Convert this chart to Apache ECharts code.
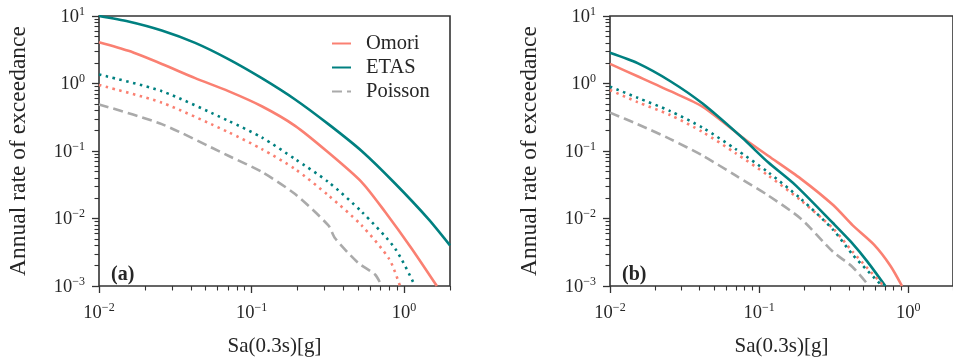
<!DOCTYPE html>
<html>
<head>
<meta charset="utf-8">
<script src="https://cdn.jsdelivr.net/npm/echarts@6/dist/echarts.min.js"></script>
<style>
html,body{margin:0;padding:0;background:#fff;}
#c{width:953px;height:362px;}
</style>
</head>
<body>
<div id="c"></div>
<script>
// ---- data (x = Sa(0.3s) [g], y = annual rate) ----
const etasA      = [[0.01,10],[0.0156,8.3],[0.0258,6.1],[0.0427,4.0],[0.0705,2.3],[0.1167,1.2],[0.193,0.58],[0.319,0.25],[0.527,0.1],[0.873,0.033],[1.445,0.0098],[2.0,0.004]];
const omoriA     = [[0.01,4.1],[0.0156,3.05],[0.0258,1.95],[0.0427,1.2],[0.0705,0.77],[0.1167,0.46],[0.193,0.236],[0.319,0.095],[0.527,0.0347],[0.75,0.0126],[1.12,0.0036],[1.64,0.001]];
const etasDotA   = [[0.01,1.36],[0.0258,0.77],[0.0705,0.28],[0.1167,0.159],[0.193,0.076],[0.319,0.0347],[0.527,0.0126],[0.873,0.0036],[1.18,0.001]];
const omoriDotA  = [[0.01,0.95],[0.0258,0.52],[0.0705,0.19],[0.1167,0.107],[0.193,0.054],[0.319,0.022],[0.527,0.0079],[0.8,0.0025],[0.94,0.001]];
const poissonA   = [[0.01,0.49],[0.0258,0.25],[0.0705,0.085],[0.1167,0.049],[0.193,0.023],[0.319,0.0079],[0.353,0.0051],[0.5,0.0022],[0.645,0.00148],[0.714,0.001]];

const etasB      = [[0.01,2.85],[0.0153,2.0],[0.0254,1.08],[0.042,0.5],[0.0768,0.158],[0.115,0.068],[0.176,0.031],[0.314,0.0085],[0.414,0.0045],[0.533,0.0023],[0.703,0.001]];
const omoriB     = [[0.01,1.95],[0.0153,1.28],[0.0254,0.77],[0.042,0.45],[0.0807,0.148],[0.115,0.085],[0.19,0.039],[0.314,0.0158],[0.425,0.0079],[0.59,0.0041],[0.76,0.002],[0.91,0.001]];
const etasDotB   = [[0.01,0.9],[0.0153,0.615],[0.0254,0.39],[0.042,0.22],[0.0695,0.107],[0.115,0.0485],[0.19,0.0197],[0.314,0.0068],[0.425,0.0029],[0.67,0.001]];
const omoriDotB  = [[0.01,0.8],[0.0153,0.53],[0.0254,0.34],[0.042,0.19],[0.0695,0.093],[0.115,0.0434],[0.19,0.0186],[0.314,0.0071],[0.425,0.0032],[0.686,0.001]];
const poissonB   = [[0.01,0.37],[0.0153,0.25],[0.0254,0.15],[0.042,0.085],[0.0695,0.0434],[0.115,0.022],[0.19,0.01],[0.314,0.0032],[0.425,0.0019],[0.547,0.001]];

// ---- axes / tick labels ----
const xMajorTicks = [0.01, 0.1, 1];
const yMajorTicks = [0.001, 0.01, 0.1, 1, 10];
const xRange = [0.01, 2];
const yRange = [0.001, 10];
const legendNames = ['Omori', 'ETAS', 'Poisson'];
const panelLabels = ['(a)', '(b)'];
const xTitle = 'Sa(0.3s)[g]';
const yTitle = 'Annual rate of exceedance';

// ---- styles ----
const FONT = '"Liberation Serif", serif';
const TEXT = '#262626';
const SPINE = '#333333';
const TEAL = '#008080';
const SALMON = '#fa8072';
const GRAY = '#aaaaaa';

function minorTicks(major, lo, hi) {
  const out = [];
  for (let i = 0; i < major.length; i++) {
    for (let m = 2; m <= 9; m++) {
      const v = major[i] * m;
      if (v >= lo * 0.999 && v <= hi * 1.001) out.push(v);
    }
  }
  return out;
}
const xMinor = minorTicks(xMajorTicks.concat([10]), xRange[0], xRange[1]);
const yMinor = minorTicks(yMajorTicks, yRange[0], yRange[1]);

function powLabel(v) {
  const e = Math.round(Math.log10(v));
  const s = e < 0 ? '\u2212' + (-e) : '' + e;
  return '{b|10}{s|' + s + '}';
}
const richLab = {
  b: { fontFamily: FONT, fontSize: 18.5, color: TEXT, lineHeight: 21, verticalAlign: 'bottom' },
  s: { fontFamily: FONT, fontSize: 12, color: TEXT, lineHeight: 12, verticalAlign: 'top' }
};

const grids = [
  { left: 99, top: 16, width: 351, height: 272, show: true, borderColor: SPINE, borderWidth: 1.6 },
  { left: 610, top: 16, width: 351, height: 272, show: true, borderColor: SPINE, borderWidth: 1.6 }
];

const xAxes = [], yAxes = [];
for (let g = 0; g < 2; g++) {
  xAxes.push({
    type: 'log', logBase: 10, gridIndex: g, position: 'bottom', min: xRange[0], max: xRange[1],
    axisLine: { show: false }, splitLine: { show: false },
    axisTick: { show: true, customValues: xMajorTicks, length: 7, lineStyle: { color: SPINE, width: 1.3 } },
    axisLabel: { customValues: xMajorTicks, formatter: powLabel, rich: richLab, margin: 16 },
    name: xTitle, nameLocation: 'middle', nameGap: 50,
    nameTextStyle: { fontFamily: FONT, fontSize: 21, color: TEXT }
  });
  xAxes.push({
    type: 'log', logBase: 10, gridIndex: g, position: 'bottom', min: xRange[0], max: xRange[1],
    axisLine: { show: false }, splitLine: { show: false }, axisLabel: { show: false },
    axisTick: { show: true, customValues: xMinor, length: 4.5, lineStyle: { color: SPINE, width: 1.1 } }
  });
  yAxes.push({
    type: 'log', logBase: 10, gridIndex: g, position: 'left', min: yRange[0], max: yRange[1],
    axisLine: { show: false }, splitLine: { show: false },
    axisTick: { show: true, customValues: yMajorTicks, length: 7, lineStyle: { color: SPINE, width: 1.3 } },
    axisLabel: { customValues: yMajorTicks, formatter: powLabel, rich: richLab, margin: 14 },
    name: yTitle, nameLocation: 'middle', nameGap: 68,
    nameTextStyle: { fontFamily: FONT, fontSize: 23.5, color: TEXT }
  });
  yAxes.push({
    type: 'log', logBase: 10, gridIndex: g, position: 'left', min: yRange[0], max: yRange[1],
    axisLine: { show: false }, splitLine: { show: false }, axisLabel: { show: false },
    axisTick: { show: true, customValues: yMinor, length: 4.5, lineStyle: { color: SPINE, width: 1.1 } }
  });
}

function line(name, data, g, color, type, width) {
  return {
    type: 'line', name: name, data: data, xAxisIndex: g * 2, yAxisIndex: g * 2,
    symbol: 'none', smooth: 0.25, clip: true,
    lineStyle: { color: color, width: width, type: type, cap: 'butt', join: 'round' },
    itemStyle: { color: color }, z: 3
  };
}
const DOT = [2.5, 4.5];
const DASH = [10, 5];
const series = [
  line('Omori', omoriA, 0, SALMON, 'solid', 2.6),
  line('ETAS', etasA, 0, TEAL, 'solid', 2.6),
  line('Poisson', poissonA, 0, GRAY, DASH, 2.6),
  line('Omori dotted', omoriDotA, 0, SALMON, DOT, 2.6),
  line('ETAS dotted', etasDotA, 0, TEAL, DOT, 2.6),
  line('Omori', omoriB, 1, SALMON, 'solid', 2.6),
  line('ETAS', etasB, 1, TEAL, 'solid', 2.6),
  line('Poisson', poissonB, 1, GRAY, DASH, 2.6),
  line('Omori dotted', omoriDotB, 1, SALMON, DOT, 2.6),
  line('ETAS dotted', etasDotB, 1, TEAL, DOT, 2.6)
];

const chart = echarts.init(document.getElementById('c'), null, { renderer: 'canvas' });
chart.setOption({
  animation: false,
  backgroundColor: '#fff',
  grid: grids,
  xAxis: xAxes,
  yAxis: yAxes,
  legend: {
    data: legendNames, orient: 'vertical', left: 326, top: 28,
    itemWidth: 19, itemHeight: 10, itemGap: 3, selectedMode: false,
    itemStyle: { opacity: 0 },
    textStyle: { fontFamily: FONT, fontSize: 20.5, color: TEXT, lineHeight: 20, padding: [0, 0, 0, 10] }
  },
  title: [
    { text: panelLabels[0], left: 106, top: 260, textStyle: { fontFamily: FONT, fontSize: 20, fontWeight: 'bold', color: TEXT } },
    { text: panelLabels[1], left: 617, top: 260, textStyle: { fontFamily: FONT, fontSize: 20, fontWeight: 'bold', color: TEXT } }
  ],
  series: series
});
</script>
</body>
</html>
